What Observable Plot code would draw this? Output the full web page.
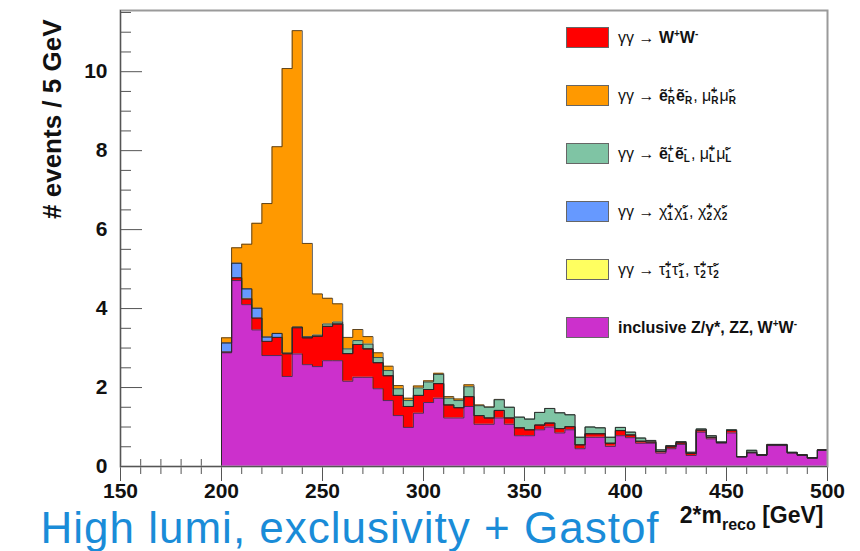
<!DOCTYPE html>
<html><head><meta charset="utf-8">
<script src="https://cdn.jsdelivr.net/npm/d3@7"></script>
<script src="https://cdn.jsdelivr.net/npm/@observablehq/plot@0.6"></script>
<style>
body{margin:0;background:#fff;}
#wrap{position:relative;width:860px;height:551px;overflow:hidden;font-family:"Liberation Sans",Arial,sans-serif;}
#legend{position:absolute;left:566px;top:0;}
.row{position:absolute;left:0;height:21px;display:flex;align-items:center;white-space:nowrap;}
.sw{width:41px;height:19px;border:1px solid #666;box-sizing:content-box;flex:none;}
.lab{margin-left:9px;font-size:16px;line-height:21px;color:#111;display:block;white-space:nowrap;}
.ss{display:inline-flex;flex-direction:column;font-size:10px;line-height:10px;vertical-align:middle;margin-right:1px;font-weight:bold;text-align:left;}
.bold{font-weight:bold;}
sup{font-size:10px;line-height:0;}
</style></head>
<body>
<div id="wrap"><div id="chart"></div><div id="legend"></div></div>
<script>
// ---- data ----
const binLow = [200,205,210,215,220,225,230,235,240,245,250,255,260,265,270,275,280,285,290,295,
  300,305,310,315,320,325,330,335,340,345,350,355,360,365,370,375,380,385,390,395,
  400,405,410,415,420,425,430,435,440,445,450,455,460,465,470,475,480,485,490,495];
const inclusive = [2.88,4.71,4.10,3.46,2.81,2.81,2.28,2.85,2.58,2.53,2.68,2.68,2.16,2.26,2.26,1.97,1.67,1.29,0.99,1.35,
  1.62,1.73,1.23,1.23,1.52,1.07,1.07,1.23,1.07,0.78,0.78,0.93,1.00,0.85,0.93,0.45,0.74,0.74,0.51,0.78,
  0.73,0.59,0.59,0.34,0.45,0.56,0.28,0.87,0.70,0.59,0.85,0.24,0.34,0.28,0.53,0.53,0.34,0.28,0.21,0.41];
const wwExcl = [0.02,0.07,0.14,0.30,0.36,0.46,0.57,0.66,0.68,0.77,0.87,0.93,0.70,0.83,0.72,0.66,0.63,0.51,0.53,0.45,
  0.33,0.37,0.33,0.26,0.25,0.22,0.16,0.19,0.16,0.20,0.15,0.12,0.10,0.11,0.08,0.10,0.09,0.09,0.08,0.13,
  0.07,0.05,0.03,0.04,0.05,0.04,0.05,0.05,0.04,0.02,0.06,0.01,0.02,0.01,0.02,0.02,0.01,0.01,0.01,0.01];
const stau = [0,0,0.02,0,0,0,0.02,0.02,0,0,0,0,0,0,0,0,0,0,0,0,
  0,0,0,0,0,0,0,0,0,0,0,0,0,0,0,0,0,0,0,0,
  0,0,0,0,0,0,0,0,0,0,0,0,0,0,0,0,0,0,0,0];
const chargino = [0.23,0.37,0.24,0.25,0.11,0.10,0,0,0,0,0,0,0,0,0,0,0,0,0,0,
  0,0,0,0,0,0,0,0,0,0,0,0,0,0,0,0,0,0,0,0,
  0,0,0,0,0,0,0,0,0,0,0,0,0,0,0,0,0,0,0,0];
const selectronL = [0,0,0,0,0,0,0,0,0.03,0.03,0.06,0.05,0.12,0.10,0.12,0.13,0.13,0.17,0.15,0.19,
  0.19,0.23,0.17,0.18,0.25,0.25,0.27,0.27,0.27,0.27,0.27,0.32,0.37,0.40,0.30,0.19,0.17,0.15,0.15,0.08,
  0.07,0.08,0.04,0.04,0.03,0.03,0.03,0.03,0.04,0.01,0.02,0,0.05,0.01,0.01,0.01,0.01,0.01,0,0];
const selectronR = [0.13,0.39,1.13,2.15,3.38,4.73,7.21,7.51,2.36,1.04,0.65,0.46,0.29,0.28,0.19,0.12,0.11,0.08,0.06,0.05,
  0.03,0.03,0.04,0.04,0.05,0.02,0.01,0.01,0,0,0,0,0,0,0,0,0,0,0,0,
  0,0,0,0,0,0,0,0,0,0,0,0,0,0,0,0,0,0,0,0];
// stacking order, bottom to top
const seriesNames = ["inclusive","WW","stau","chargino","selectronL","selectronR"];
const seriesColors = ["#cc30cc","#ff0000","#ffff60","#6699ff","#7fc4a4","#ff9900"];
// legend order, top to bottom
const legendOrder = ["WW","selectronR","selectronL","chargino","stau","inclusive"];
const xMajor = [150,200,250,300,350,400,450,500];
const xMinor = [160,170,180,190,210,220,230,240,260,270,280,290,310,320,330,340,360,370,380,390,410,420,430,440,460,470,480,490];
const yMajor = [0,2,4,6,8,10];
const yMinor = [0.5,1,1.5,2.5,3,3.5,4.5,5,5.5,6.5,7,7.5,8.5,9,9.5,10.5,11,11.5];
const yTitle = "# events / 5 GeV";
const xTitle = "2*m_reco [GeV]";
const caption = "High lumi, exclusivity + Gastof";

// ---- build stacked step rows ----
const series = [inclusive, wwExcl, stau, chargino, selectronL, selectronR];
const base = binLow.map(() => 0);
const rows = [];
series.forEach((vals, s) => {
  const name = seriesNames[s];
  rows.push({s: name, x: binLow[0] - 5, y1: 0, y2: 0});
  let last = null;
  vals.forEach((v, i) => {
    last = {s: name, x: binLow[i], y1: base[i], y2: base[i] + v};
    rows.push(last);
    base[i] += v;
  });
  rows.push({s: name, x: binLow[binLow.length - 1] + 5, y1: last.y1, y2: last.y2});
});

const W = 860, H = 551, mL = 120, mR = 33, mT = 10, mB = 85;
const yTop = 11.55;
const pxY = yTop / (H - mT - mB);
const pxX = 350 / (W - mL - mR);
const axisColor = "#555";

const chart = Plot.plot({
  width: W, height: H, marginLeft: mL, marginRight: mR, marginTop: mT, marginBottom: mB,
  x: {domain: [150, 500], axis: null},
  y: {domain: [0, yTop], axis: null},
  color: {domain: seriesNames, range: seriesColors},
  style: {fontFamily: "'Liberation Sans', Arial, sans-serif", background: "white", overflow: "visible"},
  marks: [
    Plot.ruleX(xMajor, {x: d => d, y1: -15 * pxY, y2: 12 * pxY, stroke: axisColor}),
    Plot.ruleX(xMinor, {x: d => d, y1: -8 * pxY, y2: 7 * pxY, stroke: axisColor}),
    Plot.areaY(rows, {x: "x", y1: "y1", y2: "y2", z: "s", fill: "s", curve: "step-after"}),
    Plot.lineY(rows, {x: "x", y: "y2", z: "s", stroke: "#2a2a2a", strokeWidth: 1, strokeOpacity: 0.75, curve: "step-after"}),
    Plot.frame({stroke: "#9a9a9a", strokeWidth: 2}),
    Plot.ruleY([0], {stroke: axisColor}),
    Plot.ruleX([150], {stroke: axisColor}),
    Plot.ruleY(yMajor, {y: d => d, x1: 150, x2: 150 + 22 * pxX, stroke: axisColor}),
    Plot.ruleY(yMinor, {y: d => d, x1: 150, x2: 150 + 11 * pxX, stroke: axisColor}),
    Plot.text(xMajor, {x: d => d, y: 0, dy: 25, text: d => `${d}`, fontSize: 21, fontWeight: "bold", fill: "#111"}),
    Plot.text(yMajor, {x: 150, y: d => d, dx: -13, textAnchor: "end", text: d => `${d}`, fontSize: 21, fontWeight: "bold", fill: "#111"}),
    Plot.text([yTitle], {frameAnchor: "top-left", rotate: -90, textAnchor: "end", dx: -78, dy: 9, text: d => d, fontSize: 26, fontWeight: "bold", fill: "#111"}),
    Plot.text([xTitle], {frameAnchor: "bottom-right", textAnchor: "end", dx: -4, dy: 56, text: d => d, fontSize: 23, fontWeight: "bold", fill: "#111"}),
    Plot.text([caption], {frameAnchor: "bottom-left", textAnchor: "start", lineAnchor: "bottom", dx: -80, dy: 76, text: d => d, fontSize: 44, fill: "#1a8cd8"})
  ]
});
document.getElementById("chart").appendChild(chart);

const svgNS = "http://www.w3.org/2000/svg";
chart.querySelectorAll("text").forEach(t => {
  if (t.textContent === caption) t.setAttribute("letter-spacing", "1");
  if (t.textContent === xTitle) {
    const [main, rest] = xTitle.split("_");
    const cut = rest.indexOf(" ");
    const sub = rest.slice(0, cut), tail = rest.slice(cut);
    t.textContent = "";
    const a = document.createElementNS(svgNS, "tspan"); a.textContent = main;
    const b = document.createElementNS(svgNS, "tspan"); b.textContent = sub; b.setAttribute("dy", "7"); b.setAttribute("font-size", "16");
    const c = document.createElementNS(svgNS, "tspan"); c.textContent = tail; c.setAttribute("dy", "-7");
    t.append(a, b, c);
  }
});

// ---- legend ----
const ss = (sup, sub) => `<span class="ss"><span>${sup}</span><span>${sub}</span></span>`;
const legendLabels = {
  WW: `γγ → <span class="bold">W<sup>+</sup>W<sup>-</sup></span>`,
  selectronR: `γγ → <span class="bold">ẽ</span>${ss("+","R")}<span class="bold">ẽ</span>${ss("-","R")}, μ̃${ss("+","R")}μ̃${ss("-","R")}`,
  selectronL: `γγ → <span class="bold">ẽ</span>${ss("+","L")}<span class="bold">ẽ</span>${ss("-","L")}, μ̃${ss("+","L")}μ̃${ss("-","L")}`,
  chargino: `γγ → χ̃${ss("+","1")}χ̃${ss("-","1")}, χ̃${ss("+","2")}χ̃${ss("-","2")}`,
  stau: `γγ → τ̃${ss("+","1")}τ̃${ss("-","1")}, τ̃${ss("+","2")}τ̃${ss("-","2")}`,
  inclusive: `<span class="bold" style="font-size:16px">inclusive Z/γ*, ZZ, W<sup>+</sup>W<sup>-</sup></span>`
};
const legend = document.getElementById("legend");
legendOrder.forEach((name, i) => {
  const row = document.createElement("div");
  row.className = "row";
  row.style.top = (27 + 58 * i) + "px";
  const col = seriesColors[seriesNames.indexOf(name)];
  row.innerHTML = `<div class="sw" style="background:${col}"></div><div class="lab">${legendLabels[name]}</div>`;
  legend.appendChild(row);
});
</script>
</body></html>
